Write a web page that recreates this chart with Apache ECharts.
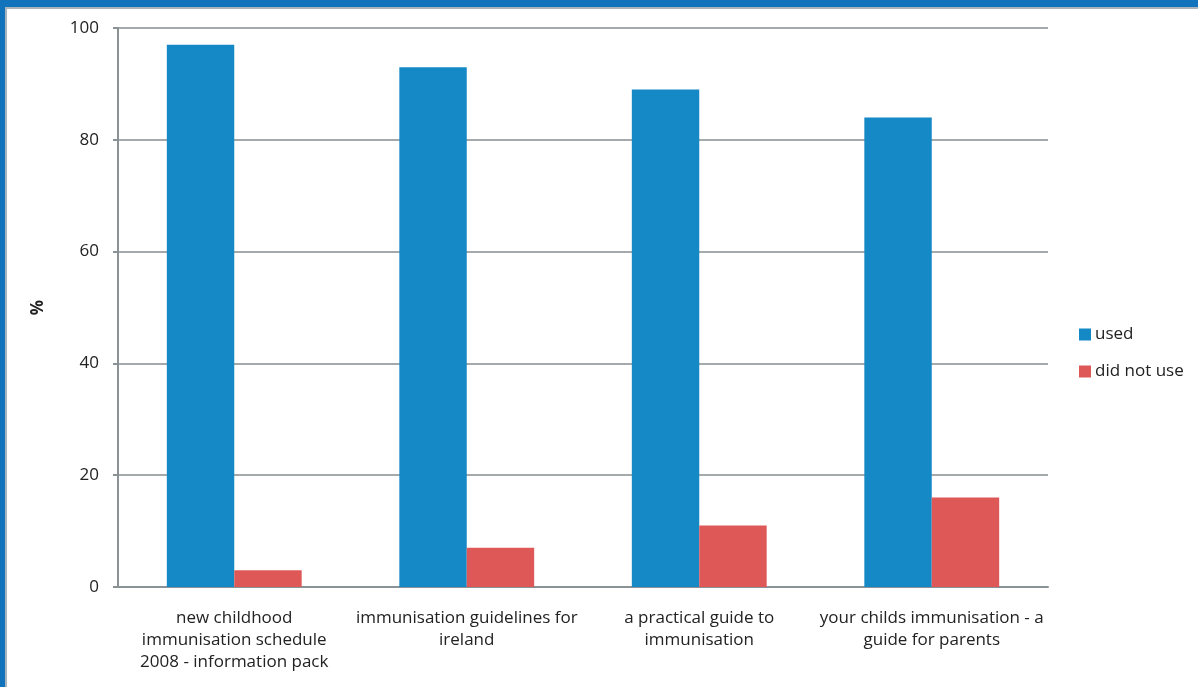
<!DOCTYPE html>
<html>
<head>
<meta charset="utf-8">
<script src="https://cdn.jsdelivr.net/npm/echarts@6/dist/echarts.min.js"></script>
<style>
html,body{margin:0;padding:0;background:#fff;}
#frame{position:absolute;left:0;top:0;width:1198px;height:687px;box-sizing:border-box;border-top:7px solid #1273BD;border-left:5px solid #1273BD;}
#inner{position:absolute;left:0;top:0;right:0;bottom:0;border-top:2px solid #A9B4BC;border-left:2px solid #A9B4BC;}
#chart{position:absolute;left:0;top:0;width:1198px;height:687px;}
</style>
</head>
<body>
<div id="frame"><div id="inner"></div></div>
<div id="chart"></div>
<script>
const categories = [
  "new childhood\nimmunisation schedule\n2008 - information pack",
  "immunisation guidelines for\nireland",
  "a practical guide to\nimmunisation",
  "your childs immunisation - a\nguide for parents"
];
const usedValues = [97, 93, 89, 84];
const notUsedValues = [3, 7, 11, 16];
const yTicks = [0, 20, 40, 60, 80, 100];

const font = "'Open Sans', 'Liberation Sans', sans-serif";
const chart = echarts.init(document.getElementById('chart'));
chart.setOption({
  animation: false,
  backgroundColor: 'transparent',
  grid: {left: 118, top: 28, width: 930, height: 559, containLabel: false},
  legend: {
    orient: 'vertical', left: 1074, top: 321, itemWidth: 12, itemHeight: 12, itemGap: 20,
    icon: 'rect',
    textStyle: {fontFamily: font, fontSize: 17, color: '#222', padding: [0, 0, 0, -1]},
    data: ['used', 'did not use']
  },
  xAxis: {
    type: 'category', data: categories,
    axisLine: {lineStyle: {color: '#8A9296', width: 2}},
    axisTick: {show: false},
    axisLabel: {fontFamily: font, fontSize: 17, color: '#222', lineHeight: 22, margin: 20, interval: 0, align: 'center'}
  },
  yAxis: {
    type: 'value', min: 0, max: 100, interval: 20,
    name: '%', nameLocation: 'middle', nameGap: 71, nameRotate: 90,
    nameTextStyle: {fontFamily: font, fontSize: 17, fontWeight: 'bold', color: '#222'},
    axisLine: {show: true, lineStyle: {color: '#8A9296', width: 2}},
    axisTick: {show: true, length: 5, lineStyle: {color: '#8A9296', width: 2}},
    axisLabel: {fontFamily: font, fontSize: 17, color: '#222', margin: 19,
      formatter: v => yTicks.includes(v) ? String(v) : ''},
    splitLine: {lineStyle: {color: '#A4A9AC', width: 2}}
  },
  series: [
    {name: 'used', type: 'bar', data: usedValues, barGap: '0%', barCategoryGap: '42%',
      itemStyle: {color: '#1588C6'}},
    {name: 'did not use', type: 'bar', data: notUsedValues,
      itemStyle: {color: '#DE5858'}}
  ]
});
</script>
</body>
</html>
